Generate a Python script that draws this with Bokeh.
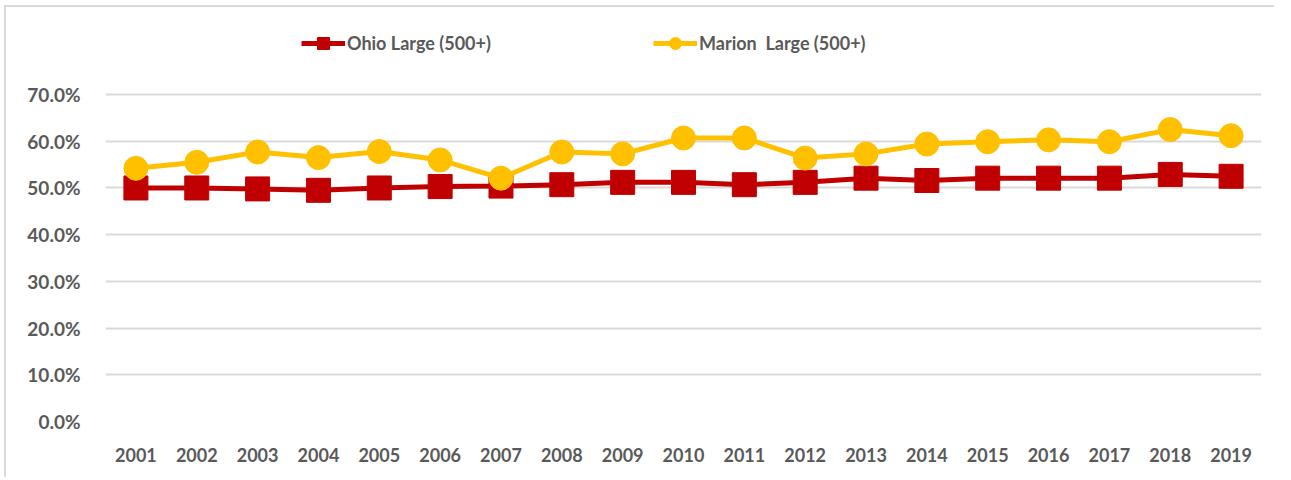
from bokeh.plotting import figure
from bokeh.models import FactorRange, Range1d, NumeralTickFormatter, Legend, LegendItem, ColumnDataSource, FixedTicker
from bokeh.embed import file_html
from bokeh.resources import INLINE

years = [str(y) for y in range(2001, 2020)]
ohio = [50.0, 50.0, 49.8, 49.5, 50.0, 50.3, 50.4, 50.7, 51.2, 51.2, 50.7, 51.2, 52.1, 51.6, 52.1, 52.1, 52.1, 52.9, 52.5]
marion = [54.2, 55.5, 57.7, 56.5, 57.8, 56.0, 52.1, 57.7, 57.3, 60.7, 60.7, 56.4, 57.3, 59.4, 59.9, 60.3, 59.9, 62.5, 61.2]
y_ticks = [0.0, 0.1, 0.2, 0.3, 0.4, 0.5, 0.6, 0.7]
ohio_label = "Ohio Large (500+)"
marion_label = "Marion  Large (500+)"

RED = "#C00000"
YEL = "#FFC000"
TXT = "#595959"
FONT = "Lato"

src = ColumnDataSource(dict(year=years, ohio=[v / 100 for v in ohio], marion=[v / 100 for v in marion]))

p = figure(width=1270, height=472, x_range=FactorRange(*years), y_range=Range1d(0, 0.85),
           output_backend="svg", toolbar_location=None,
           min_border_left=99, min_border_right=15, min_border_top=17, min_border_bottom=58)
p.styles = {"border-left": "2px solid #d9d9d9", "border-top": "2px solid #d9d9d9",
            "border-right": "none", "border-bottom": "none", "outline": "none", "box-shadow": "none",
            "margin-left": "4px", "margin-top": "5px"}
p.outline_line_color = None
p.background_fill_color = "white"
p.border_fill_color = "white"

p.xgrid.grid_line_color = None
p.ygrid.grid_line_color = "#D9D9D9"
p.ygrid.grid_line_width = 2

p.yaxis.ticker = FixedTicker(ticks=y_ticks)
p.yaxis.formatter = NumeralTickFormatter(format="0.0%")
for ax in (p.xaxis[0], p.yaxis[0]):
    ax.axis_line_color = None
    ax.major_tick_line_color = None
    ax.minor_tick_line_color = None
    ax.major_label_text_font = FONT
    ax.major_label_text_font_style = "bold"
    ax.major_label_text_font_size = "18px"
    ax.major_label_text_color = TXT
p.yaxis.major_label_text_font_size = "19px"
p.yaxis.major_label_standoff = 19
p.xaxis.major_label_standoff = 20

r_ohio_l = p.line("year", "ohio", source=src, line_color=RED, line_width=5)
r_ohio_m = p.scatter("year", "ohio", source=src, marker="square", size=24, fill_color=RED, line_color=RED)
r_mar_l = p.line("year", "marion", source=src, line_color=YEL, line_width=5)
r_mar_m = p.scatter("year", "marion", source=src, marker="circle", size=24, fill_color=YEL, line_color=YEL)


def mk_legend(label, rends, x):
    lg = Legend(items=[LegendItem(label=label, renderers=rends)], location=(x, 363),
                orientation="horizontal", background_fill_alpha=0, border_line_color=None,
                glyph_width=44, glyph_height=30, label_standoff=2, padding=0, margin=0,
                label_text_font=FONT, label_text_font_style="bold", label_text_font_size="18px",
                label_text_color=TXT)
    p.add_layout(lg, "center")


mk_legend(ohio_label, [r_ohio_l, r_ohio_m], 196)
mk_legend(marion_label, [r_mar_l, r_mar_m], 548)

open("out.html", "w").write(file_html(p, INLINE))
